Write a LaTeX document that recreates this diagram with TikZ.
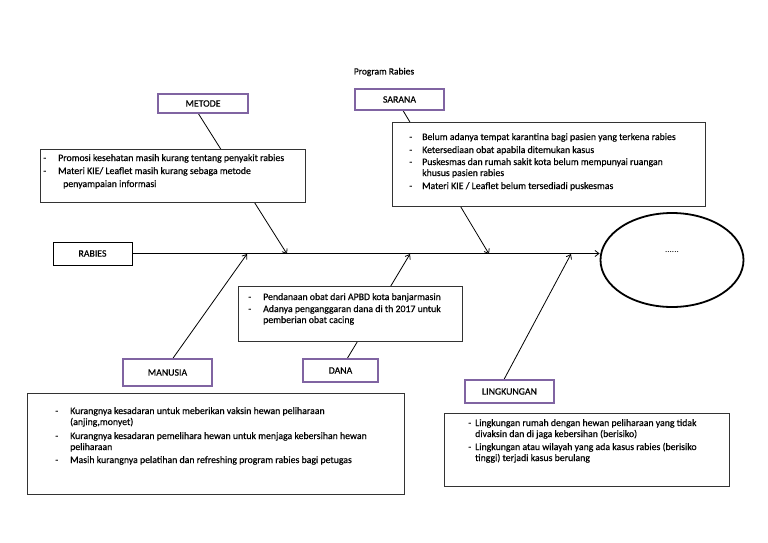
\documentclass[tikz,border=0pt]{standalone}
\usepackage{fontspec}
\setmainfont{Carlito}
\newfontfamily\txtfont{Carlito}[FakeBold=0.5]
\usetikzlibrary{arrows.meta,calc,shapes.geometric}
\pgfdeclarelayer{bg}
\pgfsetlayers{bg,main}
\definecolor{lblpurple}{HTML}{8064A2}
\newcommand{\dsh}[1][15pt]{\makebox[#1][l]{-}}
\begin{document}
\begin{tikzpicture}[x=1pt,y=-1pt,
  lbl/.style={draw=lblpurple,line width=1.4pt,fill=white,inner sep=0pt,font=\txtfont\fontsize{9.8}{10}\selectfont},
  infobox/.style={draw=black!80,line width=0.9pt,fill=white,inner sep=0pt},
  infotext/.style={anchor=north west,inner sep=0pt,align=left,font=\txtfont\fontsize{9.8}{11}\selectfont},
  conn/.style={line width=0.8pt,-{Straight Barb[length=4pt,width=6pt]}},
]
\useasboundingbox (0,0) rectangle (768,543);

\node[font=\txtfont\fontsize{9.5}{10}\selectfont] (title) at (384,72) {Program Rabies};

% label boxes
\node[lbl,minimum width=90pt,minimum height=19pt] (metode) at (203,103.5) {METODE};
\node[lbl,minimum width=89pt,minimum height=21pt] (sarana) at (399.5,99.5) {SARANA};
\node[draw=black,line width=1pt,fill=white,inner sep=0pt,minimum width=79pt,minimum height=23pt,font=\txtfont\fontsize{9.8}{10}\selectfont] (rabies) at (92.5,253.5) {RABIES};
\node[lbl,minimum width=89pt,minimum height=27pt] (manusia) at (167.5,372.5) {MANUSIA};
\node[lbl,minimum width=75pt,minimum height=23pt] (dana) at (340.5,370.5) {DANA};
\node[lbl,minimum width=89pt,minimum height=23pt] (lingkungan) at (509.5,391.5) {LINGKUNGAN};

% effect ellipse
\node[ellipse,draw=black,line width=1.8pt,minimum width=143pt,minimum height=94pt,inner sep=0pt] (effect) at (672,260) {};
\node[font=\fontsize{9}{9}\selectfont] (efftext) at (672,252) {......};

% info boxes
\node[infobox,minimum width=265pt,minimum height=53pt] (metodeinfo) at (172.5,175.5) {};
\node[infotext] (metodetext) at (43,154) {\dsh Promosi kesehatan masih kurang tentang penyakit rabies\\[2pt]
\dsh Materi KIE/ Leaflet masih kurang sebaga metode\\[2pt]
\hspace*{20pt}penyampaian informasi};

\node[infobox,minimum width=313pt,minimum height=84pt] (saranainfo) at (548.5,164) {};
\node[infotext] (saranatext) at (409,133) {\dsh[13pt]Belum adanya tempat karantina bagi pasien yang terkena rabies\\[2pt]
\dsh[13pt]Ketersediaan obat apabila ditemukan kasus\\[1pt]
\dsh[13pt]Puskesmas dan rumah sakit kota belum mempunyai ruangan\\
\hspace*{13pt}khusus pasien rabies\\[2pt]
\dsh[13pt]Materi KIE / Leaflet belum tersediadi puskesmas};

\node[infobox,minimum width=224pt,minimum height=55pt] (danainfo) at (350,313.5) {};
\node[infotext] (danatext) at (248,293) {\dsh Pendanaan obat dari APBD kota banjarmasin\\[1pt]
\dsh Adanya penganggaran dana di th 2017 untuk\\
\hspace*{15pt}pemberian obat cacing};

\node[infobox,minimum width=377pt,minimum height=101pt] (manusiainfo) at (215.5,443.5) {};
\node[infotext] (manusiatext) at (55,407) {\dsh Kurangnya kesadaran untuk meberikan vaksin hewan peliharaan\\
\hspace*{15pt}(anjing,monyet)\\[3pt]
\dsh Kurangnya kesadaran pemelihara hewan untuk menjaga kebersihan hewan\\
\hspace*{15pt}peliharaan\\[2pt]
\dsh Masih kurangnya pelatihan dan refreshing program rabies bagi petugas};

\node[infobox,minimum width=285pt,minimum height=73pt] (lingkinfo) at (586.5,449.5) {};
\node[infotext] (lingktext) at (468,419) {\dsh[7pt]Lingkungan rumah dengan hewan peliharaan yang tidak\\
\hspace*{7pt}divaksin dan di jaga kebersihan (berisiko)\\[2pt]
\dsh[7pt]Lingkungan atau wilayah yang ada kasus rabies (berisiko\\
\hspace*{7pt}tinggi) terjadi kasus berulang};

% spine tip points
\coordinate (tipm) at (287,254);
\coordinate (tips) at (489,254);
\coordinate (tipu) at (247,254);
\coordinate (tipd) at (410,254);
\coordinate (tipl) at (571,254);

\begin{pgfonlayer}{bg}
\draw[conn] (rabies.east) -- (rabies.east -| effect.west);
\draw[conn] ($(metode.south west)!0.45!(metode.south east)$) -- (tipm);
\draw[conn] ($(sarana.south west)!0.54!(sarana.south east)$) -- (tips);
\draw[conn] ($(manusia.north west)!0.56!(manusia.north east)$) -- (tipu);
\draw[conn] ($(dana.north west)!0.59!(dana.north east)$) -- (tipd);
\draw[conn] ($(lingkungan.north west)!0.44!(lingkungan.north east)$) -- (tipl);
\end{pgfonlayer}
\end{tikzpicture}
\end{document}
